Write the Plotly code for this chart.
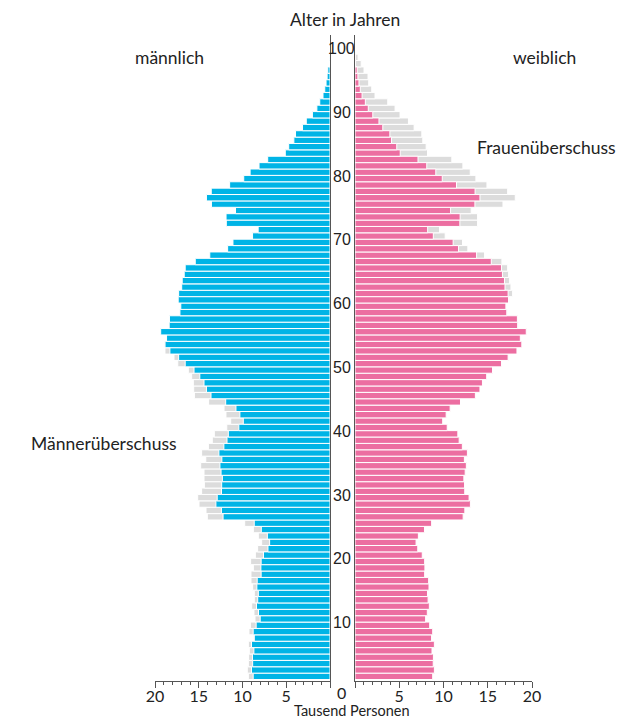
import plotly.graph_objects as go

# ---------------- data ----------------
ages = list(range(2, 100))
male = [9.33, 9.45, 9.33, 9.30, 9.22, 9.33, 8.75, 9.26, 9.10, 8.57,
        8.69, 8.95, 8.65, 8.65, 8.84, 9.03, 9.03, 8.76, 9.07, 8.53,
        8.27, 7.81, 8.19, 8.76, 9.75, 14.02, 14.17, 14.97, 15.12, 14.67,
        14.36, 14.40, 14.40, 14.78, 14.20, 14.67, 13.90, 13.45, 13.22, 11.80,
        11.35, 11.89, 12.11, 13.87, 15.50, 15.58, 15.62, 15.81, 16.19, 17.40,
        17.83, 18.86, 18.95, 18.80, 19.35, 18.38, 18.35, 17.15, 17.05, 17.35,
        17.30, 16.95, 16.89, 16.66, 16.55, 15.40, 13.74, 11.70, 11.09, 8.85,
        8.21, 11.85, 11.88, 10.80, 13.55, 14.12, 13.57, 11.47, 9.86, 9.13,
        8.11, 7.12, 5.11, 4.72, 4.13, 3.94, 3.14, 2.71, 2.01, 1.50,
        1.17, 0.80, 0.60, 0.45, 0.33, 0.25, 0.05, 0.02]
female = [8.78, 8.97, 8.84, 8.86, 8.70, 8.97, 8.65, 8.78, 8.44, 7.98,
          8.17, 8.40, 8.26, 8.19, 8.36, 8.32, 7.87, 7.90, 7.87, 7.60,
          7.09, 6.90, 7.16, 7.85, 8.66, 12.22, 12.41, 13.04, 12.89, 12.40,
          12.38, 12.30, 12.45, 12.58, 12.36, 12.70, 12.13, 11.77, 11.62, 10.42,
          9.91, 10.30, 10.75, 11.92, 13.60, 14.12, 14.40, 14.88, 15.54, 16.55,
          17.30, 18.30, 18.85, 18.68, 19.40, 18.45, 18.40, 17.20, 17.08, 17.47,
          17.81, 17.62, 17.47, 17.36, 17.25, 16.60, 14.64, 12.75, 12.15, 10.19,
          9.55, 13.85, 13.85, 13.13, 16.72, 18.11, 17.25, 14.91, 13.66, 13.02,
          12.19, 10.94, 8.19, 8.04, 7.66, 7.55, 6.68, 6.04, 5.09, 4.53,
          3.70, 2.26, 1.89, 1.55, 1.47, 1.02, 0.70, 0.35]
common = [min(m, f) for m, f in zip(male, female)]

age_ticks = [10, 20, 30, 40, 50, 60, 70, 80, 90, 100]
x_ticks = [0, 5, 10, 15, 20]
x_ticktext = ["", "5", "10", "15", "20"]

# ---------------- style ----------------
W, H = 622, 719
BLUE = "#00b4e6"
PINK = "#ec6ea1"
GREY = "#dcdcdc"
AXC = "#555555"
TXT = "#222222"
FONT = "Lato"
NUMFONT = "Liberation Sans Narrow, Liberation Sans, Arial"

def px(x):
    return x / W

def py(y):
    return 1 - y / H

bar_line = dict(color="white", width=1)

fig = go.Figure()
fig.add_trace(go.Bar(y=ages, x=male, orientation="h", xaxis="x", yaxis="y",
                     marker=dict(color=GREY, line=bar_line), width=1, hoverinfo="skip"))
fig.add_trace(go.Bar(y=ages, x=common, orientation="h", xaxis="x", yaxis="y",
                     marker=dict(color=BLUE, line=bar_line), width=1, name="männlich"))
fig.add_trace(go.Bar(y=ages, x=female, orientation="h", xaxis="x2", yaxis="y2",
                     marker=dict(color=GREY, line=bar_line), width=1, hoverinfo="skip"))
fig.add_trace(go.Bar(y=ages, x=common, orientation="h", xaxis="x2", yaxis="y2",
                     marker=dict(color=PINK, line=bar_line), width=1, name="weiblich"))

xcommon = dict(showgrid=False, zeroline=False, showline=True, linecolor=AXC, linewidth=1,
               ticks="outside", ticklen=6, tickcolor=AXC, tickwidth=1,
               tickmode="array", tickvals=x_ticks, ticktext=x_ticktext,
               tickfont=dict(family=FONT, size=16, color=TXT),
               ticklabelstandoff=-6,
               minor=dict(tickmode="linear", tick0=0, dtick=1, ticks="outside",
                          ticklen=3, tickcolor=AXC, showgrid=False),
               automargin=False, fixedrange=True)

ydom = [py(681.3), py(35)]
ycommon = dict(showgrid=False, zeroline=False, showline=True, linecolor=AXC, linewidth=1,
               showticklabels=False, ticks="", domain=ydom, range=[1.22, 102.5],
               automargin=False, fixedrange=True)

annotations = []
for a in age_ticks:
    annotations.append(dict(x=px(342), xref="paper", y=a, yref="y", yshift=2.5,
                            text=str(a), showarrow=False, xanchor="center", yanchor="middle",
                            font=dict(family=NUMFONT, size=16, color=TXT)))

def label(text, x, y, size=17.5):
    annotations.append(dict(x=px(x), y=py(y), xref="paper", yref="paper", text=text,
                            showarrow=False, xanchor="center", yanchor="middle",
                            font=dict(family=FONT, size=size, color=TXT)))

label("Alter in Jahren", 345, 19)
label("männlich", 169, 57)
label("weiblich", 544, 57)
label("Männerüberschuss", 103.5, 443)
label("Frauenüberschuss", 546, 147)
label("0", 342, 692.5, 16)
label("Tausend Personen", 351.5, 710.5, 14.5)

fig.update_layout(
    width=W, height=H,
    autosize=False,
    margin=dict(l=0, r=0, t=0, b=0, pad=0, autoexpand=False),
    paper_bgcolor="white", plot_bgcolor="white",
    barmode="overlay", showlegend=False,
    xaxis=dict(domain=[px(155), px(330)], range=[20, 0], anchor="y", **xcommon),
    xaxis2=dict(domain=[px(355), px(532)], range=[0, 20], anchor="y2", **xcommon),
    yaxis=dict(anchor="x", side="right", **ycommon),
    yaxis2=dict(anchor="x2", side="left", matches="y", **ycommon),
    annotations=annotations,
)

fig.write_html(
    "out.html",
    config={"displayModeBar": False, "staticPlot": True},
    post_script="document.body.style.margin='0';document.body.style.overflow='hidden';",
)
